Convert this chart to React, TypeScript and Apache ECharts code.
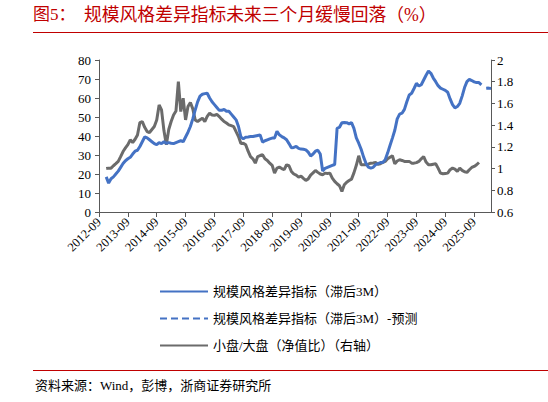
import React, { useEffect, useRef } from "react";
import * as echarts from "echarts";

const startYear = 2012;
const startMonth = 9;
const monthCount = 164;
const categories: string[] = [];
for (let i = 0; i < monthCount; i++) {
  const t = startMonth - 1 + i;
  const y = startYear + Math.floor(t / 12);
  const m = (t % 12) + 1;
  categories.push(`${y}-${m < 10 ? "0" + m : m}`);
}

const N = null;

// 规模风格差异指标（滞后3M）, left axis, %
const styleDiff: (number | null)[] = [
  N, N, N, 18.5, 15.2, 17.5, 18.5, 20, 21.5, 23.5,
  25.5, 27, 28, 28.8, 30.5, 32, 32.5, 34.5, 37, 39.5,
  39, 38, 37, 36, 35.4, 36.5, 36, 37, 36.2, 36.5,
  36.2, 36, 36.5, 37, 37.5, 37, 39.5, 42, 45, 49,
  53.7, 58, 61, 62, 62.3, 62.5, 60, 58, 56.5, 55,
  53.5, 53.5, 54, 53, 53, 51.5, 50, 48.5, 45, 39.5,
  38.5, 39.4, 39.5, 39.7, 39.7, 40, 40.3, 40.6, 36.8, 37.5,
  38, 38.5, 38.9, 39, 42.5, 40.6, 39.7, 39, 38, 36,
  33.8, 34, 34.5, 33.5, 33.1, 33, 32.7, 31.5, 29.5, 30.5,
  32, 32.5, 30.5, 21.5, 23, 23.5, 24, 24.5, 25, 44,
  44.6, 47, 47.1, 47, 46.4, 47, 44, 39, 36.2, 33,
  29, 25.7, 23.6, 23.1, 23.5, 24.9, 25.5, 26, 26.1, 27.5,
  31, 35, 38.9, 43, 49, 51.5, 52, 54, 58, 61.6,
  62.5, 65, 67.7, 66.3, 67, 69.5, 72, 74.2, 73, 70.5,
  68.6, 66.5, 65.2, 64.6, 64, 63, 59.5, 56.5, 54.8, 55.5,
  57.2, 61, 65.5, 68.6, 69.8, 69.2, 68.5, 68.1, 68.1, 66.9,
  N, N, N, N,
];

// 规模风格差异指标（滞后3M）-预测
const styleDiffForecast: (number | null)[] = [];
const forecastValues: [number, number][] = [
  [161, 65.1],
  [162, 65.2],
  [163, 65.0],
];
for (let i = 0; i < monthCount; i++) styleDiffForecast.push(null);
forecastValues.forEach(([i, v]) => (styleDiffForecast[i] = v));

// 小盘/大盘（净值比）, right axis
const smallLarge: (number | null)[] = [
  N, N, N, 1.0, 1.004, 1.004, 1.026, 1.045, 1.066, 1.11,
  1.157, 1.19, 1.22, 1.265, 1.24, 1.27, 1.31, 1.424, 1.433, 1.38,
  1.341, 1.332, 1.36, 1.387, 1.448, 1.586, 1.54, 1.35, 1.219, 1.36,
  1.433, 1.494, 1.53, 1.8, 1.525, 1.648, 1.448, 1.571, 1.608, 1.55,
  1.448, 1.433, 1.45, 1.464, 1.433, 1.48, 1.51, 1.494, 1.49, 1.5,
  1.479, 1.455, 1.433, 1.42, 1.403, 1.395, 1.387, 1.34, 1.295, 1.23,
  1.234, 1.219, 1.16, 1.11, 1.09, 1.05, 1.111, 1.12, 1.127, 1.09,
  1.075, 1.05, 1.03, 0.958, 1.004, 1.013, 1.0, 0.99, 1.035, 1.026,
  0.974, 0.95, 0.94, 0.922, 0.93, 0.91, 0.891, 0.905, 0.94, 0.96,
  0.983, 0.965, 0.95, 0.943, 0.958, 0.955, 0.958, 0.912, 0.882, 0.86,
  0.842, 0.79, 0.851, 0.875, 0.89, 0.903, 0.96, 1.03, 1.118, 1.035,
  1.035, 1.035, 1.04, 1.05, 1.052, 1.056, 1.04, 1.045, 1.056, 1.066,
  1.09, 1.105, 1.118, 1.044, 1.07, 1.081, 1.075, 1.066, 1.066, 1.066,
  1.05, 1.05, 1.055, 1.066, 1.09, 1.111, 1.06, 1.035, 1.035, 1.04,
  1.044, 1.004, 0.958, 0.952, 0.955, 0.958, 0.99, 1.004, 0.995, 0.974,
  1.004, 0.983, 0.97, 0.965, 0.989, 1.01, 1.02, 1.035, 1.056, N,
  N, N, N, N,
];

const seriesNames = [
  "规模风格差异指标（滞后3M）",
  "规模风格差异指标（滞后3M）-预测",
  "小盘/大盘（净值比）（右轴）",
];

const titleText = "规模风格差异指标未来三个月缓慢回落（%）";
const titlePrefix = "图5：";
const sourceText = "资料来源：Wind，彭博，浙商证券研究所";

const RED = "#c00000";
const BLUE = "#4472c4";
const GRAY = "#6b6b6b";
const FONT = "'Liberation Serif', 'Noto Sans CJK SC', serif";

export default function App() {
  const ref = useRef<HTMLDivElement>(null);

  useEffect(() => {
    if (!ref.current) return;
    const chart = echarts.init(ref.current, undefined, { renderer: "svg" });
    const axisLine = { show: true, lineStyle: { color: "#595959", width: 1 } };
    chart.setOption({
      animation: false,
      backgroundColor: "#ffffff",
      textStyle: { fontFamily: FONT },
      grid: { left: 99, right: 57, top: 60, bottom: 190, containLabel: false },
      graphic: [
        {
          type: "text",
          left: 33,
          top: 6,
          style: { text: titlePrefix, fill: RED, font: `17px ${FONT}` },
        },
        {
          type: "text",
          left: 84,
          top: 6,
          style: { text: titleText, fill: RED, font: `17.8px ${FONT}` },
        },
        {
          type: "rect",
          shape: { x: 33, y: 32, width: 515, height: 1 },
          style: { fill: RED },
        },
        {
          type: "rect",
          shape: { x: 33, y: 370, width: 515, height: 1 },
          style: { fill: RED },
        },
        {
          type: "text",
          left: 35,
          top: 379,
          style: { text: sourceText, fill: "#000", font: `13px ${FONT}` },
        },
      ],
      legend: {
        orient: "vertical",
        left: 154,
        top: 280,
        itemWidth: 48,
        itemHeight: 14,
        itemGap: 14,
        data: seriesNames,
        itemStyle: { opacity: 0, borderWidth: 0 },
        textStyle: { fontSize: 13, color: "#000", fontFamily: FONT },
      },
      xAxis: {
        type: "category",
        data: categories,
        boundaryGap: false,
        axisLine,
        axisTick: { show: true, interval: 11, length: 5, inside: false, lineStyle: { color: "#595959" } },
        axisLabel: {
          interval: 11,
          rotate: 45,
          fontSize: 12.5,
          color: "#000",
          fontFamily: FONT,
          margin: 8,
        },
        splitLine: { show: false },
      },
      yAxis: [
        {
          type: "value",
          min: 0,
          max: 80,
          interval: 10,
          axisLine,
          axisTick: { show: true, length: 4, lineStyle: { color: "#595959" } },
          axisLabel: { fontSize: 13, color: "#000", fontFamily: FONT, margin: 8 },
          splitLine: { show: false },
        },
        {
          type: "value",
          min: 0.6,
          max: 2,
          interval: 0.2,
          position: "right",
          axisLine,
          axisTick: { show: true, length: 4, lineStyle: { color: "#595959" } },
          axisLabel: {
            fontSize: 13,
            color: "#000",
            fontFamily: FONT,
            margin: 6,
            formatter: (v: number) => String(+v.toFixed(1)),
          },
          splitLine: { show: false },
        },
      ],
      series: [
        {
          name: seriesNames[0],
          type: "line",
          yAxisIndex: 0,
          data: styleDiff,
          symbol: "none",
          connectNulls: false,
          lineStyle: { color: BLUE, width: 3 },
          itemStyle: { color: BLUE },
          z: 3,
        },
        {
          name: seriesNames[1],
          type: "line",
          yAxisIndex: 0,
          data: styleDiffForecast,
          symbol: "none",
          lineStyle: { color: BLUE, width: 3, type: [7, 4] },
          itemStyle: { color: BLUE },
          z: 3,
        },
        {
          name: seriesNames[2],
          type: "line",
          yAxisIndex: 1,
          data: smallLarge,
          symbol: "none",
          lineStyle: { color: GRAY, width: 3 },
          itemStyle: { color: GRAY },
          z: 2,
        },
      ],
    });
    return () => chart.dispose();
  }, []);

  return (
    <div
      ref={ref}
      style={{ position: "fixed", left: 0, top: 0, width: 548, height: 402, background: "#fff" }}
    />
  );
}
